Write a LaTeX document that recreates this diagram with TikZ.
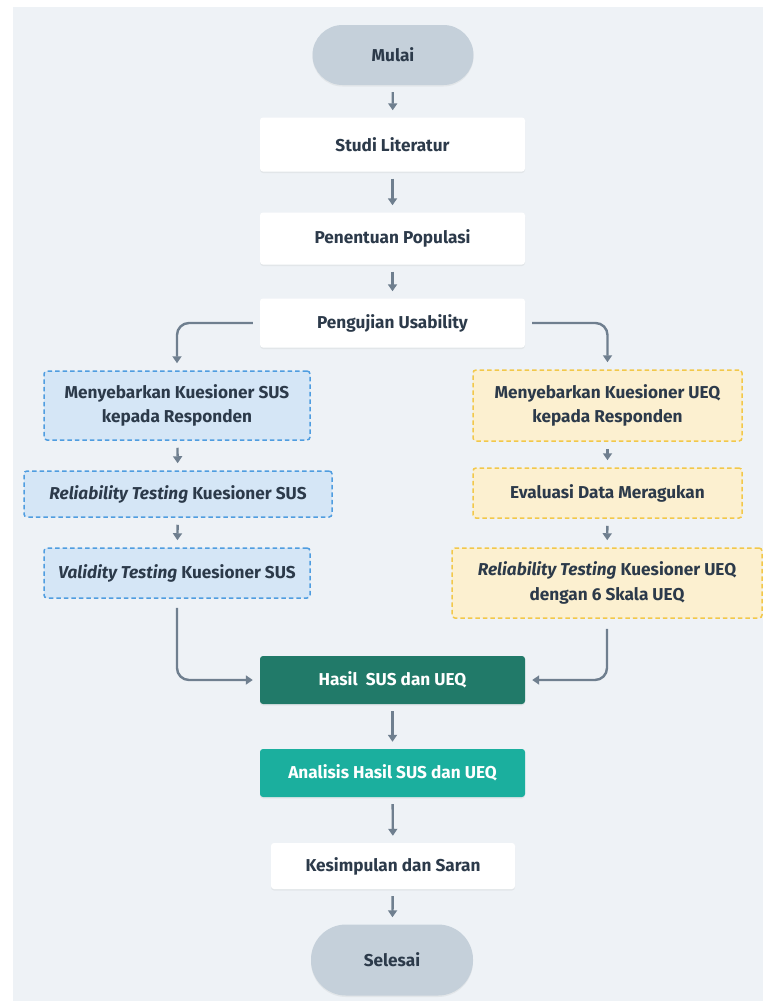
\documentclass[tikz,border=0pt]{standalone}
\usepackage{xcolor}
\usepackage{fontspec}
\setmainfont{Fira Sans}
\usepackage{tikz}
\usetikzlibrary{arrows.meta, positioning, calc, shadows}
\definecolor{canvasgray}{HTML}{EEF2F6}
\definecolor{pillgray}{HTML}{C5D0DA}
\definecolor{inkdark}{HTML}{2C3A4A}
\definecolor{flowgray}{HTML}{6F7F8F}
\definecolor{susblue}{HTML}{D5E6F6}
\definecolor{susedge}{HTML}{4F9DE0}
\definecolor{ueqyellow}{HTML}{FCF0D0}
\definecolor{ueqedge}{HTML}{F2C84A}
\definecolor{hasilgreen}{HTML}{217A69}
\definecolor{analisisteal}{HTML}{1BAF9E}

\begin{document}
\begin{tikzpicture}[
    x=1pt, y=-1pt,
    every node/.style={font=\bfseries\fontsize{17.2}{24.5}\selectfont, text=inkdark, align=center, inner sep=0pt},
    softshadow/.style={drop shadow={opacity=0.10, shadow xshift=0pt, shadow yshift=-1.5pt}},
    pill/.style={rectangle, rounded corners=30pt, fill=pillgray, softshadow},
    process/.style={rectangle, rounded corners=3pt, fill=white, softshadow},
    susbox/.style={rectangle, rounded corners=3pt, fill=susblue, draw=susedge, line width=1.5pt, dash pattern=on 4.5pt off 3pt},
    ueqbox/.style={rectangle, rounded corners=3pt, fill=ueqyellow, draw=ueqedge, line width=1.5pt, dash pattern=on 4.5pt off 3pt},
    hasilbox/.style={rectangle, rounded corners=3pt, fill=hasilgreen, text=white, softshadow},
    analisisbox/.style={rectangle, rounded corners=3pt, fill=analisisteal, text=white, softshadow},
    flow/.style={draw=flowgray, line width=2.4pt, -{Triangle[width=9pt, length=7pt]}, shorten >=7pt, shorten <=7pt}
]
\useasboundingbox (0,0) rectangle (763,1001);
\fill[canvasgray] (13,7) rectangle (763,1001);

% main column
\node[pill, minimum width=161pt, minimum height=60pt] (mulai) at (393,55) {Mulai};
\node[process, minimum width=265pt, minimum height=54pt] (studi) at (392.5,144.5) {Studi Literatur};
\node[process, minimum width=265pt, minimum height=52pt] (populasi) at (392.5,238.5) {Penentuan Populasi};
\node[process, minimum width=265pt, minimum height=49pt] (pengujian) at (392.5,323) {Pengujian Usability};

% SUS branch
\node[susbox, minimum width=266pt, minimum height=69pt] (sus1) at (177,405.5) {Menyebarkan Kuesioner SUS\\kepada Responden};
\node[susbox, minimum width=308pt, minimum height=46pt] (sus2) at (178,494) {\textit{Reliability Testing} Kuesioner SUS};
\node[susbox, minimum width=266pt, minimum height=50pt] (sus3) at (177,573) {\textit{Validity Testing} Kuesioner SUS};

% UEQ branch
\node[ueqbox, minimum width=269pt, minimum height=71pt] (ueq1) at (607.5,405.5) {Menyebarkan Kuesioner UEQ\\kepada Responden};
\node[ueqbox, minimum width=269pt, minimum height=50pt] (ueq2) at (607.5,493) {Evaluasi Data Meragukan};
\node[ueqbox, minimum width=310pt, minimum height=70pt] (ueq3) at (607,583) {\textit{Reliability Testing} Kuesioner UEQ\\dengan 6 Skala UEQ};

% results
\node[hasilbox, minimum width=265pt, minimum height=48pt] (hasil) at (392.5,680) {Hasil\ \ SUS dan UEQ};
\node[analisisbox, minimum width=265pt, minimum height=48pt] (analisis) at (392.5,773) {Analisis Hasil SUS dan UEQ};
\node[process, minimum width=244pt, minimum height=46pt] (kesimpulan) at (393,866) {Kesimpulan dan Saran};
\node[pill, minimum width=162pt, minimum height=71pt, rounded corners=35pt] (selesai) at (392,960) {Selesai};

\draw[flow] (mulai) -- (studi);
\draw[flow] (studi) -- (populasi);
\draw[flow] (populasi) -- (pengujian);
\draw[flow, rounded corners=12pt] (pengujian.west) -| (sus1.north);
\draw[flow, rounded corners=12pt] (pengujian.east) -| (ueq1.north);
\draw[flow] (sus1) -- (sus2);
\draw[flow] (sus2) -- (sus3);
\draw[flow] (ueq1) -- (ueq2);
\draw[flow] (ueq2) -- (ueq3);
\draw[flow, rounded corners=12pt, shorten <=9pt] (sus3.south) |- (hasil.west);
\draw[flow, rounded corners=12pt, shorten <=10pt] (ueq3.south) |- (hasil.east);
\draw[flow] (hasil) -- (analisis);
\draw[flow] (analisis) -- (kesimpulan);
\draw[flow] (kesimpulan) -- (selesai);
\end{tikzpicture}
\end{document}
